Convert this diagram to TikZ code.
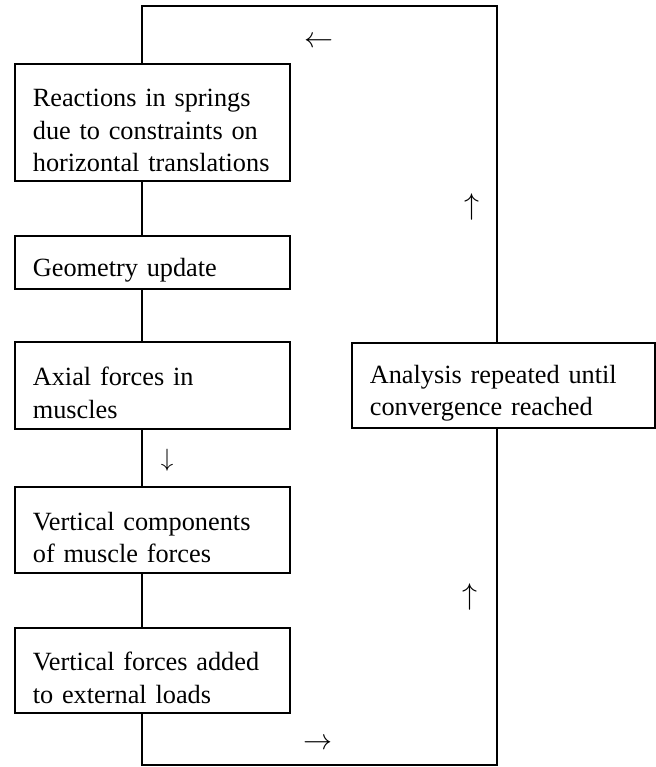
\RequirePackage{fix-cm}
\documentclass[tikz,border=0pt]{standalone}
\usepackage{fontspec}
\setmainfont{Liberation Serif}
\newcommand\boxfont{\fontsize{26.3}{32.5}\selectfont\spaceskip=0.6em plus 0.1em minus 0.1em\relax}
\newcommand\toppad{\rule{0pt}{34pt}}
\begin{document}
\begin{tikzpicture}[x=1pt,y=-1pt,
  box/.style={draw, line width=1.7pt, text width=239pt, inner xsep=18pt, inner ysep=0pt,
    align=left, font=\boxfont, anchor=north west, execute at begin node=\toppad},
  link/.style={line width=1.3pt},
  arr/.style={inner sep=0pt}]
\path[use as bounding box, fill=white] (0,0) rectangle (655,767);
\node[box, minimum height=117pt] (b1) at (14,63) {Reactions in springs\\due to constraints on\\horizontal translations};
\node[box, minimum height=53pt] (b2) at (14,235) {Geometry update};
\node[box, minimum height=87pt] (b3) at (14,341) {Axial forces in\\muscles};
\node[box, minimum height=86pt] (b4) at (14,486) {Vertical components\\of muscle forces};
\node[box, minimum height=85pt] (b5) at (14,627) {Vertical forces added\\to external loads};
\node[box, minimum height=85pt, text width=267pt] (b6) at (351,342) {Analysis repeated until\\convergence reached};
\coordinate (L) at (142,0);
\coordinate (R) at (497,0);
\coordinate (tl) at (142,6);
\coordinate (tr) at (497,6);
\coordinate (bl) at (142,765);
\coordinate (br) at (497,765);
\draw[link] (b1.north -| L) -- (tl) -- (tr) -- (b6.north -| R);
\draw[link] (b6.south -| R) -- (br) -- (bl) -- (b5.south -| L);
\draw[link] (b1.south -| L) -- (b2.north -| L);
\draw[link] (b2.south -| L) -- (b3.north -| L);
\draw[link] (b3.south -| L) -- (b4.north -| L);
\draw[link] (b4.south -| L) -- (b5.north -| L);
\node[arr, font=\fontsize{29}{29}\selectfont] (a1) at (319,42) {$\leftarrow$};
\node[arr, font=\fontsize{30}{30}\selectfont] (a2) at (472,207) {$\uparrow$};
\node[arr, font=\fontsize{30}{30}\selectfont] (a3) at (470,597) {$\uparrow$};
\node[arr, font=\fontsize{25}{25}\selectfont] (a4) at (167,460) {$\downarrow$};
\node[arr, font=\fontsize{29}{29}\selectfont] (a5) at (318,744) {$\rightarrow$};
\end{tikzpicture}
\end{document}
